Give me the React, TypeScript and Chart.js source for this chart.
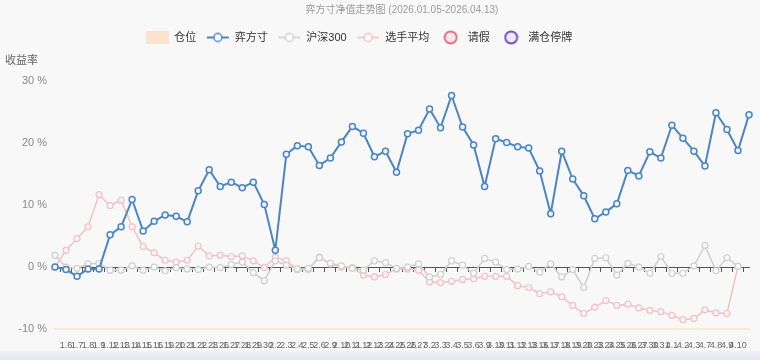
import React, { useEffect, useRef } from 'react';
import { Chart, registerables } from 'chart.js';

Chart.register(...registerables);

const FONT = "'Liberation Sans', 'Noto Sans CJK SC', sans-serif";

const titleText = '弈方寸净值走势图 (2026.01.05-2026.04.13)';
const yTitle = '收益率';

const dates = [
  '1.5', '1.6', '1.7', '1.8', '1.9', '1.12', '1.13', '1.14', '1.15', '1.16',
  '1.19', '1.20', '1.21', '1.22', '1.23', '1.26', '1.27', '1.28', '1.29', '1.30',
  '2.2', '2.3', '2.4', '2.5', '2.6', '2.9', '2.10', '2.11', '2.12', '2.13',
  '2.24', '2.25', '2.26', '2.27', '3.2', '3.3', '3.4', '3.5', '3.6', '3.9',
  '3.10', '3.11', '3.12', '3.13', '3.16', '3.17', '3.18', '3.19', '3.20', '3.23',
  '3.24', '3.25', '3.26', '3.27', '3.30', '3.31', '4.1', '4.2', '4.3', '4.7',
  '4.8', '4.9', '4.10', '4.13',
];

const yifangcun = [
  0, -0.4, -1.5, -0.3, -0.3, 5.2, 6.5, 10.9, 5.8, 7.4,
  8.4, 8.2, 7.3, 12.3, 15.7, 13.0, 13.7, 12.8, 13.7, 10.1,
  2.7, 18.2, 19.6, 19.4, 16.4, 17.6, 20.2, 22.7, 21.6, 17.8,
  18.7, 15.3, 21.5, 22.1, 25.5, 22.5, 27.7, 22.6, 19.7, 13.0,
  20.7, 20.1, 19.4, 19.2, 15.5, 8.6, 18.7, 14.2, 11.5, 7.8,
  8.9, 10.2, 15.6, 14.7, 18.6, 17.6, 22.9, 20.8, 18.7, 16.3,
  24.9, 22.2, 18.8, 24.6,
];

const hs300 = [
  1.9, 0, -0.2, 0.5, 0.6, -0.5, -0.5, 0.2, -0.5, 0,
  -0.6, -0.1, -0.3, -0.4, 0, -0.1, 0.4, 0.8, -0.9, -2.2,
  1.0, 0.3, -0.3, -0.2, 1.5, 0.6, 0.2, -0.2, -0.5, 1.0,
  0.7, -0.2, 0, 0.5, -1.6, -1.2, 1.0, 0.3, -1.0, 1.4,
  0.8, -0.4, -0.3, 0.1, -0.8, 0.5, -1.6, -0.4, -3.3, 1.4,
  1.5, -1.3, 0.6, 0, -1.0, 1.7, -1.0, -1.0, 0.2, 3.5,
  -0.6, 1.5, 0.1, null,
];

const playerAvg = [
  0, 2.7, 4.6, 6.5, 11.7, 9.9, 10.8, 6.5, 3.3, 2.3,
  1.1, 0.8, 1.1, 3.4, 1.8, 1.9, 1.7, 1.8, 1.0, -0.1,
  1.6, 1.0, -0.4, -0.4, 1.6, 0.5, 0, -0.1, -1.3, -1.6,
  -1.2, -0.3, -0.3, -0.5, -2.4, -2.5, -2.3, -2.0, -1.9, -1.5,
  -1.5, -1.5, -3.0, -3.3, -4.3, -4.0, -4.8, -6.2, -7.5, -6.5,
  -5.4, -6.2, -6.0, -6.6, -7.0, -7.2, -7.8, -8.5, -8.3, -6.9,
  -7.4, -7.5, 0.1, null,
];

const positionData: number[] = [];
const leaveData: number[] = [];
const haltData: number[] = [];

const yTicks = [-10, 0, 10, 20, 30];

const BLUE = '#4b85c5';
const GRAY = '#cfcfcf';
const PINK = '#f2c1c5';
const PEACH = '#fbe4cd';

function lineIcon(color: string, lw: number) {
  const c = document.createElement('canvas');
  c.width = 24; c.height = 12;
  const ctx = c.getContext('2d')!;
  ctx.strokeStyle = color; ctx.lineWidth = lw;
  ctx.beginPath(); ctx.moveTo(1, 6); ctx.lineTo(23, 6); ctx.stroke();
  ctx.beginPath(); ctx.arc(12, 6, 4, 0, Math.PI * 2);
  ctx.fillStyle = '#ffffff'; ctx.fill(); ctx.lineWidth = 1.5; ctx.stroke();
  return c;
}
function rectIcon(color: string) {
  const c = document.createElement('canvas');
  c.width = 23; c.height = 13;
  const ctx = c.getContext('2d')!;
  ctx.fillStyle = color; ctx.fillRect(0, 0, 23, 13);
  return c;
}
function circleIcon(stroke: string, fill: string) {
  const c = document.createElement('canvas');
  c.width = 15; c.height = 15;
  const ctx = c.getContext('2d')!;
  ctx.beginPath(); ctx.arc(7.5, 7.5, 6, 0, Math.PI * 2);
  ctx.fillStyle = fill; ctx.fill();
  ctx.strokeStyle = stroke; ctx.lineWidth = 2; ctx.stroke();
  return c;
}

const legendShift = {
  id: 'legendShift',
  afterLayout(chart: any) {
    if (chart.legend) {
      chart.legend.left -= 20;
      chart.legend.right -= 20;
    }
  },
};

export default function App() {
  const ref = useRef<HTMLCanvasElement | null>(null);
  useEffect(() => {
    if (!ref.current) return;
    const icons = [
      rectIcon(PEACH),
      lineIcon(BLUE, 2),
      lineIcon(GRAY, 1.5),
      lineIcon(PINK, 1.5),
      circleIcon('#e2718a', '#fde6ea'),
      circleIcon('#7452c4', '#eeeaf8'),
    ];
    const pointCommon = {
      pointRadius: 3,
      pointHoverRadius: 3,
      tension: 0,
      spanGaps: false,
    };
    const chart = new Chart(ref.current, {
      type: 'line',
      data: {
        labels: dates,
        datasets: [
          { label: '仓位', data: positionData, borderColor: PEACH, backgroundColor: PEACH, pointRadius: 0 },
          { label: '弈方寸', data: yifangcun, borderColor: BLUE, borderWidth: 2, pointBorderColor: BLUE, pointBackgroundColor: '#f0f5fb', pointBorderWidth: 1.5, ...pointCommon },
          { label: '沪深300', data: hs300, borderColor: GRAY, borderWidth: 1.5, pointBorderColor: GRAY, pointBackgroundColor: '#fafafa', pointBorderWidth: 1.2, ...pointCommon },
          { label: '选手平均', data: playerAvg, borderColor: PINK, borderWidth: 1.5, pointBorderColor: PINK, pointBackgroundColor: '#fdf5f5', pointBorderWidth: 1.2, ...pointCommon },
          { label: '请假', data: leaveData, borderColor: '#e2718a', backgroundColor: '#fde6ea', pointRadius: 6 },
          { label: '满仓停牌', data: haltData, borderColor: '#7452c4', backgroundColor: '#eeeaf8', pointRadius: 6 },
        ],
      },
      options: {
        animation: false,
        responsive: false,
        maintainAspectRatio: false,
        devicePixelRatio: 1,
        layout: { padding: { left: 5, right: 7, top: 0, bottom: 0 } },
        plugins: {
          tooltip: { enabled: false },
          title: {
            display: true,
            text: titleText,
            fullSize: false,
            color: '#9b9b9b',
            font: { size: 10, family: FONT, weight: 'normal' },
            padding: { top: 4, bottom: 6 },
          },
          subtitle: {
            display: true,
            text: yTitle,
            align: 'start',
            weight: 500,
            color: '#666666',
            font: { size: 11, family: FONT },
            padding: { top: 1, bottom: 14 },
          },
          legend: {
            position: 'top',
            labels: {
              usePointStyle: true,
              pointStyleWidth: 23,
              boxHeight: 12,
              color: '#333333',
              font: { size: 11, family: FONT },
              padding: 10,
              generateLabels: (ch: any) => {
                const items = Chart.defaults.plugins.legend.labels.generateLabels(ch);
                items.forEach((it: any, i: number) => { it.pointStyle = icons[i]; });
                return items;
              },
            },
          },
        },
        scales: {
          x: {
            type: 'category',
            offset: false,
            grid: { display: false, drawTicks: false },
            border: { display: true, color: '#f3ecd6', width: 2 },
            ticks: {
              autoSkip: false,
              maxRotation: 0,
              minRotation: 0,
              color: '#666666',
              font: { size: 9, family: FONT },
              padding: 11,
              callback: (_v: any, i: number) => (i === 0 || i === dates.length - 1 ? '' : dates[i]),
            },
            afterFit: (s: any) => { s.height = 31; },
          },
          x0: {
            type: 'category',
            axis: 'x',
            position: { y: 0 },
            offset: false,
            grid: { display: true, drawOnChartArea: false, drawTicks: true, tickLength: 4, offset: true, color: '#555555', lineWidth: 1 },
            border: { display: true, color: '#555555', width: 1 },
            ticks: { display: false },
          },
          y: {
            min: -10,
            max: 30,
            afterBuildTicks: (s: any) => { s.ticks = yTicks.map((v) => ({ value: v })); },
            ticks: {
              callback: (v: any) => v + ' %',
              padding: 8,
              color: '#888888',
              font: { size: 11, family: FONT },
            },
            grid: { display: false, drawTicks: false },
            border: { display: false },
            afterFit: (s: any) => { s.width = 50; },
          },
        },
      } as any,
      plugins: [legendShift],
    });
    return () => chart.destroy();
  }, []);

  return (
    <div style={{ position: 'fixed', left: 0, top: 0, width: 760, height: 360, background: '#f8f8f8', overflow: 'hidden' }}>
      <div style={{ position: 'absolute', left: 0, top: 351, width: 760, height: 9, background: 'linear-gradient(#eef1f7, #e3e7f1)' }} />
      <canvas ref={ref} width={760} height={360} style={{ position: 'absolute', left: 0, top: 0, display: 'block' }} />
    </div>
  );
}
